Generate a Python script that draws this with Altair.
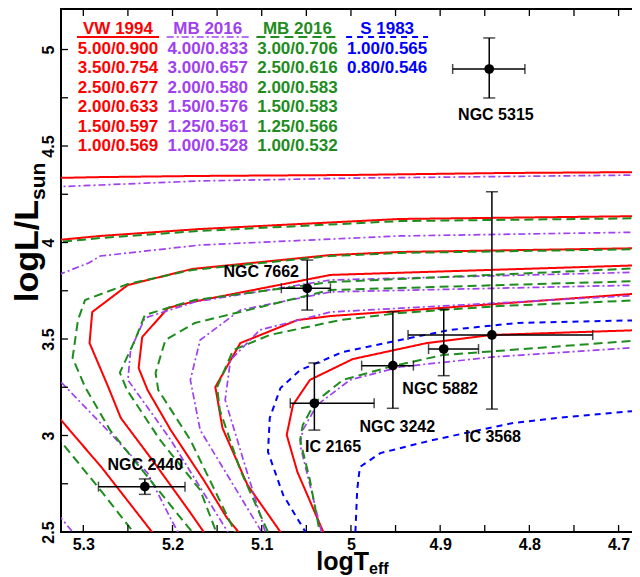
import altair as alt
import pandas as pd

# ---------------- data (logTeff, logL) ----------------
# VW 1994 (red, solid)
vw_labels = ["5.00/0.900", "3.50/0.754", "2.50/0.677", "2.00/0.633", "1.50/0.597", "1.00/0.569"]
vw_T = [
    [4.67, 4.833, 5.0, 5.169, 5.281, 5.335],
    [4.67, 4.945, 5.169, 5.281, 5.335, 5.45, 5.45, 5.366, 5.325, 5.279, 5.223, 5.214],
    [4.671, 4.945, 5.023, 5.178, 5.25, 5.29, 5.293, 5.272, 5.258, 5.219, 5.180, 5.165],
    [4.671, 5.023, 5.178, 5.205, 5.234, 5.238, 5.228, 5.202, 5.165, 5.139, 5.126],
    [4.671, 5.023, 5.06, 5.124, 5.152, 5.144, 5.116, 5.079, 5.07],
    [4.671, 4.842, 4.915, 4.998, 5.046, 5.065, 5.072, 5.060, 5.031, 5.02],
]
vw_L = [
    [4.365, 4.36, 4.35, 4.345, 4.339, 4.334],
    [4.137, 4.122, 4.07, 4.034, 4.01, 3.95, 3.6, 3.3, 3.08, 2.832, 2.5, 2.45],
    [3.971, 3.951, 3.935, 3.863, 3.780, 3.640, 3.479, 3.251, 3.091, 2.85, 2.6, 2.5],
    [3.883, 3.832, 3.692, 3.661, 3.510, 3.350, 3.236, 3.028, 2.769, 2.573, 2.5],
    [3.738, 3.619, 3.598, 3.479, 3.251, 3.039, 2.744, 2.5, 2.45],
    [3.547, 3.521, 3.479, 3.396, 3.288, 3.158, 3.003, 2.811, 2.5, 2.45],
]

# MB 2016 (purple, dash-dot)
mbp_labels = ["4.00/0.833", "3.00/0.657", "2.00/0.580", "1.50/0.576", "1.25/0.561", "1.00/0.528"]
mbp_T = [
    [4.67, 4.99, 5.169, 5.281, 5.335, 5.6, 5.6, 5.36, 5.325, 5.312, 5.30],
    [4.67, 4.945, 5.169, 5.281, 5.294, 5.335, 5.40, 5.40, 5.345, 5.325, 5.27, 5.228, 5.203, 5.194, 5.19],
    [4.671, 5.023, 5.175, 5.231, 5.247, 5.25, 5.202, 5.138, 5.13],
    [4.671, 5.023, 5.124, 5.169, 5.180, 5.169, 5.1, 5.09],
    [4.671, 5.023, 5.102, 5.135, 5.141, 5.124, 5.096, 5.09],
    [4.671, 4.841, 4.945, 5.001, 5.038, 5.054, 5.057, 5.046, 5.033, 5.03],
]
mbp_L = [
    [4.35, 4.334, 4.319, 4.298, 4.288, 4.25, 3.2, 2.75, 2.573, 2.5, 2.44],
    [4.054, 4.034, 3.987, 3.93, 3.894, 3.82, 3.7, 3.5, 3.36, 3.277, 3.013, 2.806, 2.578, 2.5, 2.46],
    [3.847, 3.806, 3.692, 3.609, 3.443, 3.288, 2.977, 2.5, 2.45],
    [3.780, 3.744, 3.650, 3.495, 3.288, 3.028, 2.5, 2.45],
    [3.728, 3.640, 3.547, 3.391, 3.184, 2.925, 2.5, 2.45],
    [3.459, 3.407, 3.355, 3.288, 3.158, 3.028, 2.951, 2.744, 2.5, 2.45],
]

# MB 2016 (green, dashed)
mbg_labels = ["3.00/0.706", "2.50/0.616", "2.00/0.583", "1.50/0.583", "1.25/0.566", "1.00/0.532"]
mbg_T = [
    [4.67, 4.945, 5.169, 5.281, 5.335, 5.47, 5.47, 5.366, 5.322, 5.279, 5.244, 5.236],
    [4.671, 4.945, 5.023, 5.178, 5.25, 5.298, 5.306, 5.312, 5.298, 5.27, 5.225, 5.178, 5.171],
    [4.671, 5.023, 5.175, 5.202, 5.231, 5.242, 5.259, 5.251, 5.214, 5.169, 5.151, 5.14],
    [4.671, 5.023, 5.175, 5.208, 5.219, 5.216, 5.180, 5.13, 5.12],
    [4.671, 4.833, 4.945, 5.012, 5.091, 5.132, 5.150, 5.147, 5.124, 5.093, 5.085],
    [4.671, 4.897, 4.953, 5.009, 5.040, 5.054, 5.057, 5.046, 5.035, 5.03],
]
mbg_L = [
    [4.126, 4.111, 4.06, 4.023, 4.0, 3.95, 3.6, 3.2, 2.951, 2.707, 2.5, 2.45],
    [3.966, 3.946, 3.930, 3.858, 3.785, 3.702, 3.598, 3.402, 3.251, 3.028, 2.769, 2.5, 2.459],
    [3.868, 3.795, 3.702, 3.666, 3.624, 3.495, 3.326, 3.236, 2.977, 2.718, 2.5, 2.45],
    [3.801, 3.754, 3.583, 3.495, 3.324, 3.236, 2.977, 2.5, 2.45],
    [3.702, 3.671, 3.635, 3.598, 3.521, 3.443, 3.251, 3.132, 2.821, 2.5, 2.45],
    [3.495, 3.417, 3.360, 3.288, 3.174, 3.054, 2.977, 2.769, 2.5, 2.45],
]

# S 1983 (blue, dashed)
s_labels = ["1.00/0.565", "0.80/0.546"]
s_T = [
    [4.671, 4.814, 4.889, 4.945, 5.009, 5.057, 5.079, 5.091, 5.093, 5.076, 5.051, 5.045],
    [4.671, 4.758, 4.818, 4.908, 4.967, 4.990, 4.993, 4.995, 4.995],
]
s_L = [
    [3.598, 3.583, 3.547, 3.495, 3.433, 3.339, 3.246, 3.091, 2.915, 2.692, 2.5, 2.45],
    [3.132, 3.096, 3.065, 2.977, 2.909, 2.837, 2.718, 2.5, 2.45],
]

# Observed central stars
obj_names = ["NGC 5315", "NGC 7662", "NGC 2440", "IC 2165", "NGC 3242", "NGC 5882", "IC 3568"]
obj_T = [4.845, 5.049, 5.231, 5.041, 4.953, 4.896, 4.842]
obj_L = [4.899, 3.763, 2.735, 3.167, 3.362, 3.448, 3.521]
obj_T_lo = [4.805, 5.023, 5.186, 4.974, 4.930, 4.857, 4.729]
obj_T_hi = [4.886, 5.078, 5.283, 5.068, 4.988, 4.913, 4.936]
obj_L_lo = [4.749, 3.650, 2.695, 3.028, 3.141, 3.310, 3.137]
obj_L_hi = [5.060, 3.909, 2.775, 3.376, 3.641, 3.654, 4.263]
lab_T = [4.8375, 5.1006, 5.2305, 5.020, 4.948, 4.900, 4.8408]
lab_L = [4.661, 3.847, 2.847, 2.940, 3.044, 3.241, 2.992]

x_ticks_major = [4.7, 4.8, 4.9, 5.0, 5.1, 5.2, 5.3]
x_ticks_all = [4.7, 4.75, 4.8, 4.85, 4.9, 4.95, 5.0, 5.05, 5.1, 5.15, 5.2, 5.25, 5.3]
y_ticks_major = [2.5, 3.0, 3.5, 4.0, 4.5, 5.0]
y_ticks_all = [2.5, 2.75, 3.0, 3.25, 3.5, 3.75, 4.0, 4.25, 4.5, 4.75, 5.0]

# ---------------- styling ----------------
W, H = 579, 523
RED, PURPLE, GREEN, BLUE = "#ff0000", "#a040f0", "#1e8c1e", "#0000ff"
FONT = "Liberation Sans"
fam_style = {
    "VW": dict(color=RED, strokeWidth=2.0, strokeDash=[1, 0]),
    "MBP": dict(color=PURPLE, strokeWidth=1.7, strokeDash=[7, 3, 2, 3]),
    "MBG": dict(color=GREEN, strokeWidth=2.0, strokeDash=[9, 5]),
    "S": dict(color=BLUE, strokeWidth=2.0, strokeDash=[6, 5]),
}

xs = alt.Scale(domain=[4.676, 5.325], reverse=True, nice=False, zero=False)
ys = alt.Scale(domain=[2.5, 5.21], nice=False, zero=False)
axis_common = dict(domain=False, ticks=False, grid=False, labelFont=FONT, labelFontWeight="bold",
                   labelFontSize=16, labelColor="black", title=None)
xa = alt.Axis(values=x_ticks_major, format="~g", labelPadding=4, **axis_common)
ya = alt.Axis(values=y_ticks_major, format="~g", labelAngle=270, labelAlign="center",
              labelBaseline="bottom", labelPadding=5, **axis_common)


def X(f):
    return alt.X(f, scale=xs, axis=xa)


def Y(f):
    return alt.Y(f, scale=ys, axis=ya)


def track_df(fam, labels, Ts, Ls):
    rows = []
    for name, T, L in zip(labels, Ts, Ls):
        for i, (t, l) in enumerate(zip(T, L)):
            rows.append({"fam": fam, "track": fam + name, "i": i, "T": t, "L": l})
    return pd.DataFrame(rows)


layers = []
for fam, labels, Ts, Ls in [("VW", vw_labels, vw_T, vw_L), ("MBP", mbp_labels, mbp_T, mbp_L),
                            ("MBG", mbg_labels, mbg_T, mbg_L), ("S", s_labels, s_T, s_L)]:
    df = track_df(fam, labels, Ts, Ls)
    st = fam_style[fam]
    layers.append(
        alt.Chart(df).mark_line(clip=True, color=st["color"], strokeWidth=st["strokeWidth"],
                                strokeDash=st["strokeDash"])
        .encode(x=X("T:Q"), y=Y("L:Q"), detail="track:N", order="i:Q")
    )

obj = pd.DataFrame({"name": obj_names, "T": obj_T, "L": obj_L, "Tlo": obj_T_lo, "Thi": obj_T_hi,
                    "Llo": obj_L_lo, "Lhi": obj_L_hi, "lT": lab_T, "lL": lab_L})
base = alt.Chart(obj)
layers.append(base.mark_rule(color="black", strokeWidth=1.5).encode(
    x=X("Tlo:Q"), x2="Thi:Q", y=Y("L:Q")))
layers.append(base.mark_rule(color="black", strokeWidth=1.5).encode(
    x=X("T:Q"), y=Y("Llo:Q"), y2="Lhi:Q"))
for c in ["Tlo", "Thi"]:
    layers.append(base.mark_tick(orient="vertical", color="black", size=10, thickness=1.5).encode(
        x=X(c + ":Q"), y=Y("L:Q")))
for c in ["Llo", "Lhi"]:
    layers.append(base.mark_tick(orient="horizontal", color="black", size=12, thickness=1.5).encode(
        x=X("T:Q"), y=Y(c + ":Q")))
layers.append(base.mark_point(filled=True, color="black", size=95, opacity=1).encode(
    x=X("T:Q"), y=Y("L:Q")))
layers.append(base.mark_text(font=FONT, fontWeight="bold", fontSize=16, color="black",
                             baseline="middle", align="center").encode(
    x=X("lT:Q"), y=Y("lL:Q"), text="name:N"))

# inward ticks on all four sides
xt = pd.DataFrame({"v": x_ticks_all})
yt = pd.DataFrame({"v": y_ticks_all})
TK = 7
layers.append(alt.Chart(xt).mark_rule(color="black", strokeWidth=1.3).encode(
    x=X("v:Q"), y=alt.value(H), y2=alt.value(H - TK)))
layers.append(alt.Chart(xt).mark_rule(color="black", strokeWidth=1.3).encode(
    x=X("v:Q"), y=alt.value(0), y2=alt.value(TK)))
layers.append(alt.Chart(yt).mark_rule(color="black", strokeWidth=1.3).encode(
    y=Y("v:Q"), x=alt.value(0), x2=alt.value(TK)))
layers.append(alt.Chart(yt).mark_rule(color="black", strokeWidth=1.3).encode(
    y=Y("v:Q"), x=alt.value(W), x2=alt.value(W - TK)))


# axis titles with subscripts
def txt(s, x, y, size, color="black", angle=0, align="left", baseline="alphabetic"):
    return alt.Chart(pd.DataFrame({"t": [s]})).mark_text(
        font=FONT, fontWeight="bold", fontSize=size, color=color, angle=angle,
        align=align, baseline=baseline).encode(x=alt.value(x), y=alt.value(y), text="t:N")


layers.append(txt("logT", 308, 561, 25, align="right"))
layers.append(txt("eff", 308, 565, 16))
layers.append(txt("logL/L", -23, 293, 34, angle=270))
layers.append(txt("sun", -16, 191, 21, angle=270))

# legend block
col_x = [57 + 89.7 * k for k in range(4)]
heads = [("VW 1994", RED, "VW"), ("MB 2016", PURPLE, "MBP"), ("MB 2016", GREEN, "MBG"), ("S 1983", BLUE, "S")]
cols = [vw_labels, mbp_labels, mbg_labels, s_labels]
for k, ((h, col, fam), entries) in enumerate(zip(heads, cols)):
    cx = col_x[k]
    layers.append(txt(h, cx, 20, 17, color=col, align="center", baseline="middle"))
    st = fam_style[fam]
    layers.append(alt.Chart(pd.DataFrame({"a": [0]})).mark_rule(
        color=col, strokeWidth=st["strokeWidth"], strokeDash=st["strokeDash"]).encode(
        x=alt.value(cx - 41), x2=alt.value(cx + 41), y=alt.value(28)))
    ed = pd.DataFrame({"t": entries, "r": list(range(len(entries)))})
    ed["py"] = 39.5 + 19.5 * ed["r"]
    layers.append(alt.Chart(ed).mark_text(font=FONT, fontWeight="bold", fontSize=17, color=col,
                                          align="center", baseline="middle").encode(
        x=alt.value(cx), y=alt.Y("py:Q", scale=None, axis=None), text="t:N"))

chart = alt.layer(*layers).properties(
    width=W, height=H,
    padding={"left": 53, "top": 1, "right": -8, "bottom": 45},
    autosize=alt.AutoSizeParams(type="none"),
).configure_view(stroke="black", strokeWidth=2)

chart.save("out.html", embed_options={"renderer": "svg", "actions": False})
